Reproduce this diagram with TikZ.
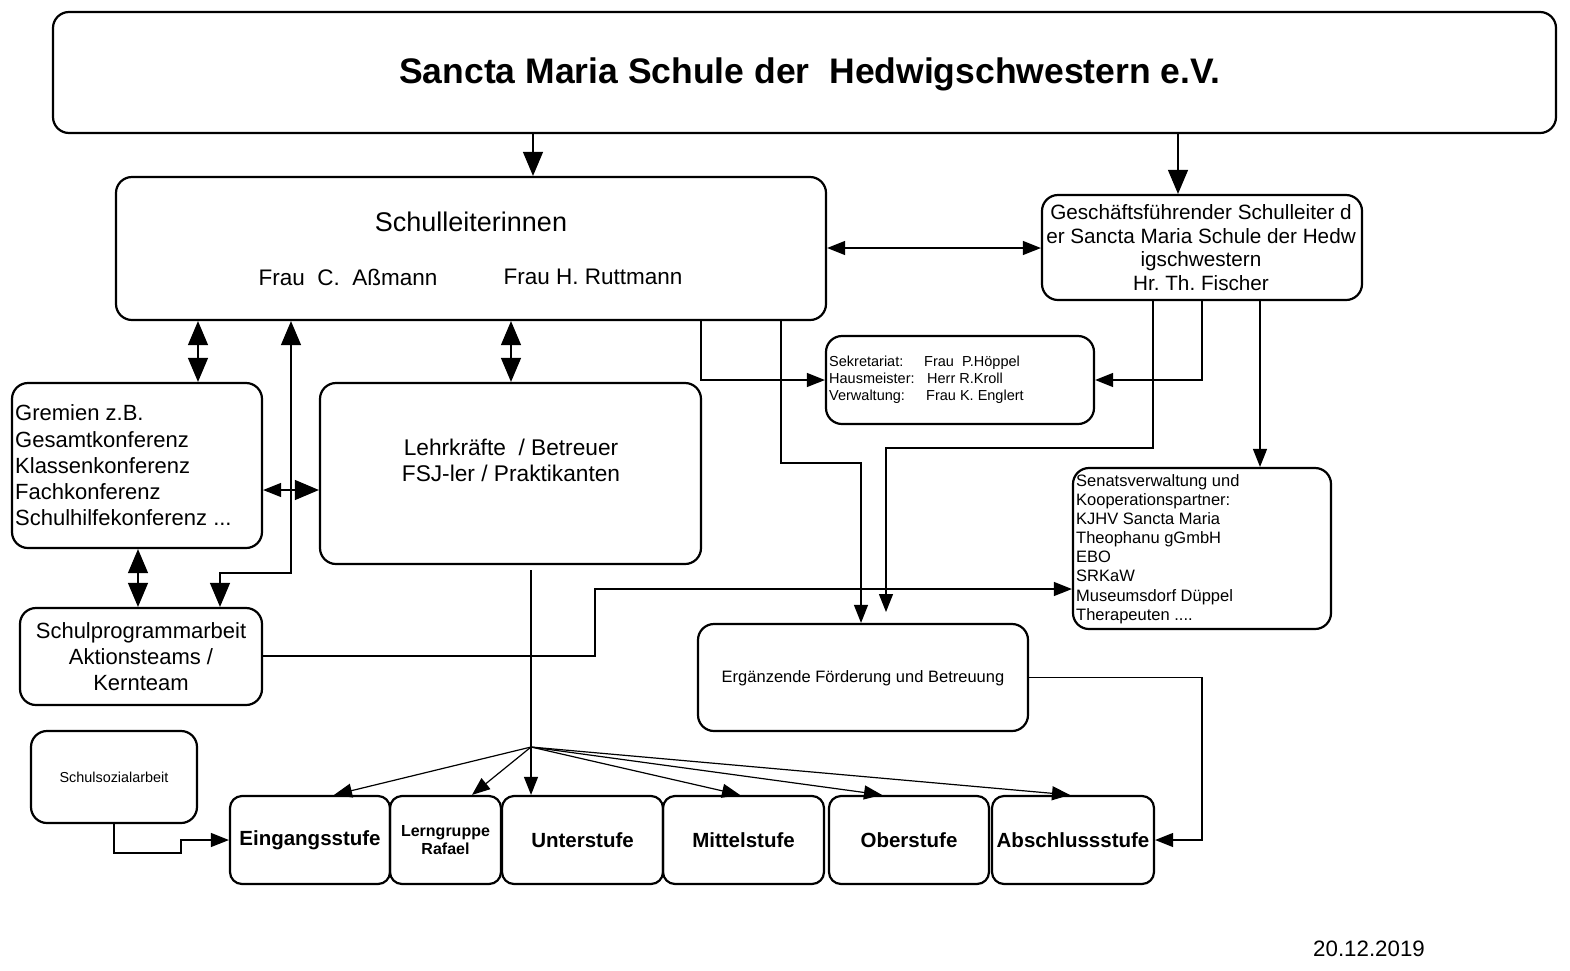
\documentclass[tikz,border=0pt]{standalone}
\usepackage{fontspec}
\setmainfont{Liberation Sans}
\usetikzlibrary{arrows.meta}
\frenchspacing

\tikzset{
  kasten/.style={draw,line width=2.2pt,rounded corners=16pt,inner sep=0pt},
  stufe/.style={kasten,rounded corners=12pt,minimum height=88pt,font=\bfseries\fontsize{20.5}{24}\selectfont},
  txt/.style={inner sep=0pt},
  linie/.style={line width=1.2pt},
  spitze/.tip={Triangle[length=18pt,width=14pt]},
  grossspitze/.tip={Triangle[length=24pt,width=20pt]},
  pfeil/.style={linie,-spitze},
  pfeilgross/.style={linie,-grossspitze},
  doppel/.style={linie,grossspitze-grossspitze},
  doppelklein/.style={linie,spitze-spitze}
}

\begin{document}
\begin{tikzpicture}[x=1pt,y=-1pt]
  \useasboundingbox (0,0) rectangle (1570,970);
  %Traeger
  \node[kasten,minimum width=1503pt,minimum height=121pt] (traeger) at (804.5,72.5) {};
  \node[txt,font=\bfseries\fontsize{35.5}{40}\selectfont] (titel) at (810,74) {Sancta Maria Schule der\ \ Hedwigschwestern e.V.};
  %Schulleitung
  \node[kasten,minimum width=710pt,minimum height=143pt] (leitung) at (471,248.5) {};
  \node[txt,font=\fontsize{27}{31}\selectfont] (leitungtitel) at (471,222) {Schulleiterinnen};
  \node[txt,font=\fontsize{22.5}{26}\selectfont] (frauA) at (348,277) {Frau\ \ C.\ \ Aßmann};
  \node[txt,font=\fontsize{22.5}{26}\selectfont] (frauR) at (593,277) {Frau H. Ruttmann};
  %Geschaeftsfuehrung
  \node[kasten,minimum width=320pt,minimum height=105pt] (gf) at (1202,247.5) {};
  \node[txt,align=center,font=\fontsize{20.7}{23.6}\selectfont] (gftext) at (1201,247.5)
    {Geschäftsführender Schulleiter d\\er Sancta Maria Schule der Hedw\\igschwestern\\Hr. Th. Fischer};
  %Sekretariat
  \node[kasten,minimum width=268pt,minimum height=88pt] (sekr) at (960,380) {};
  \node[txt,anchor=west,align=left,font=\fontsize{14.5}{17}\selectfont] (sekrtext) at (829,380)
    {\makebox[95pt][l]{Sekretariat:}Frau\ \ P.Höppel\\
     \makebox[98pt][l]{Hausmeister:}Herr R.Kroll\\
     \makebox[97pt][l]{Verwaltung:}Frau K. Englert};
  %Gremien
  \node[kasten,minimum width=250pt,minimum height=165pt] (gremien) at (137,465.5) {};
  \node[txt,anchor=west,align=left,font=\fontsize{22}{26.2}\selectfont] (gremientext) at (15,465.5)
    {Gremien z.B.\\Gesamtkonferenz\\Klassenkonferenz\\Fachkonferenz\\Schulhilfekonferenz ...};
  %Lehrkraefte
  \node[kasten,minimum width=381pt,minimum height=181pt] (lehr) at (510.5,473.5) {};
  \node[txt,align=center,font=\fontsize{22.7}{26}\selectfont] (lehrtext) at (511,460)
    {Lehrkräfte\ \ / Betreuer\\FSJ-ler / Praktikanten};
  %Senat und Partner
  \node[kasten,minimum width=258pt,minimum height=161pt] (senat) at (1202,548.5) {};
  \node[txt,anchor=west,align=left,font=\fontsize{16.5}{19.1}\selectfont] (senattext) at (1076,549)
    {Senatsverwaltung und\\Kooperationspartner:\\KJHV Sancta Maria\\Theophanu gGmbH\\EBO\\SRKaW\\Museumsdorf Düppel\\Therapeuten ....};
  %Schulprogramm
  \node[kasten,minimum width=242pt,minimum height=97pt] (schulpro) at (141,656.5) {};
  \node[txt,align=center,font=\fontsize{22}{26}\selectfont] (schulprotext) at (141,657)
    {Schulprogrammarbeit\\Aktionsteams /\\Kernteam};
  %Ergaenzende Foerderung
  \node[kasten,minimum width=330pt,minimum height=107pt] (ergaenz) at (863,677.5) {};
  \node[txt,font=\fontsize{16.5}{19}\selectfont] (ergaenztext) at (863,678) {Ergänzende Förderung und Betreuung};
  %Schulsozialarbeit
  \node[kasten,minimum width=166pt,minimum height=92pt] (sozial) at (114,777) {};
  \node[txt,font=\fontsize{14.4}{17}\selectfont] (sozialtext) at (114,777) {Schulsozialarbeit};
  %Stufen
  \node[stufe,minimum width=160pt] (eingang) at (310,840) {Eingangsstufe};
  \node[stufe,minimum width=111pt,align=center,font=\bfseries\fontsize{16}{18}\selectfont] (lern) at (445.5,840) {Lerngruppe\\Rafael};
  \node[stufe,minimum width=161pt] (unter) at (582.5,840) {Unterstufe};
  \node[stufe,minimum width=161pt] (mittel) at (743.5,840) {Mittelstufe};
  \node[stufe,minimum width=160pt] (ober) at (909,840) {Oberstufe};
  \node[stufe,minimum width=162pt] (abschl) at (1073,840) {Abschlussstufe};
  %Datum
  \node[txt,font=\fontsize{22.3}{26}\selectfont] (datum) at (1369,949) {20.12.2019};

  %Verbindungen
  \draw[pfeilgross] (traeger.south -| 533,0) -- (leitung.north -| 533,0);
  \draw[pfeilgross] (traeger.south -| 1178,0) -- (gf.north -| 1178,0);
  \draw[doppelklein] (leitung.east |- 0,248) -- (gf.west |- 0,248);
  \draw[doppel] (leitung.south -| 198,0) -- (gremien.north -| 198,0);
  \draw[doppel] (schulpro.north -| 220,0) |- (291,573) -- (leitung.south -| 291,0);
  \draw[doppel] (leitung.south -| 511,0) -- (lehr.north -| 511,0);
  \draw[linie,spitze-grossspitze] (gremien.east |- 0,490) -- (lehr.west |- 0,490);
  \draw[doppel] (gremien.south -| 138,0) -- (schulpro.north -| 138,0);
  \draw[pfeil] (leitung.south -| 701,0) |- (sekr.west);
  \draw[pfeil] (gf.south -| 1202,0) |- (sekr.east);
  \draw[pfeil] (leitung.south -| 781,0) |- (861,463) -- (ergaenz.north -| 861,0);
  \coordinate (gfende) at (886,612);
  \draw[pfeil] (gf.south -| 1153,0) |- (886,448) -- (gfende);
  \draw[pfeil] (gf.south -| 1260,0) -- (senat.north -| 1260,0);
  \draw[pfeil] (schulpro.east |- 0,656) -| (595,589) -- (senat.west |- 0,589);
  %Verteilung auf die Stufen
  \coordinate (fan) at (531,747);
  \draw[linie] (lehr.south -| 531,0) ++(0,5) -- (fan);
  \foreach \ziel/\xpos in {eingang/334,lern/472,unter/531,mittel/740,ober/882,abschl/1070}
    \draw[pfeil] (fan) -- (\ziel.north -| \xpos,0);
  \draw[pfeil] (sozial.south) |- (181,853) |- (eingang.west);
  \draw[pfeil] (ergaenz.east) -| (1202,840) -- (abschl.east);
\end{tikzpicture}
\end{document}
